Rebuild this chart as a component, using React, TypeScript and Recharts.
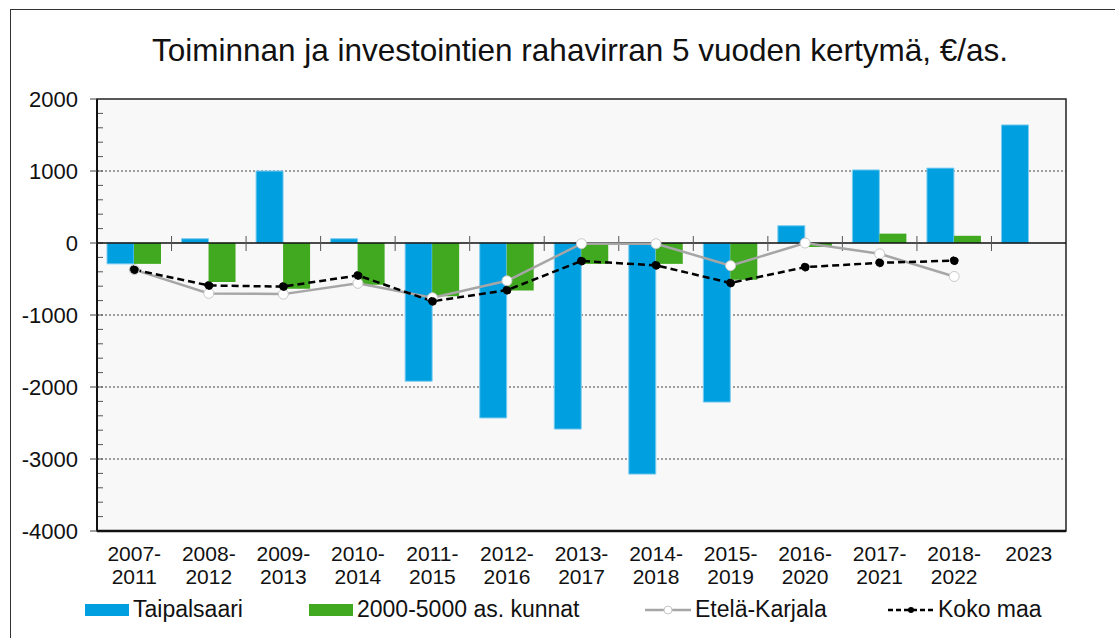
import { Bar, CartesianGrid, ComposedChart, Line, ReferenceArea, ReferenceLine, XAxis, YAxis } from 'recharts';

const categories = ['2007-2011', '2008-2012', '2009-2013', '2010-2014', '2011-2015', '2012-2016', '2013-2017', '2014-2018', '2015-2019', '2016-2020', '2017-2021', '2018-2022', '2023'];
const taipalsaari = [-290, 60, 1000, 60, -1920, -2430, -2585, -3210, -2210, 240, 1015, 1040, 1640];
const kunnat = [-290, -540, -635, -580, -740, -660, -290, -290, -510, -55, 130, 100, null];
const etelaKarjala = [-370, -700, -710, -560, -760, -525, -10, -10, -315, 0, -150, -465, null];
const kokoMaa = [-370, -590, -605, -450, -810, -655, -250, -310, -555, -335, -275, -245, null];

const yMin = -4000;
const yMax = 2000;
const yTicks = [-4000, -3000, -2000, -1000, 0, 1000, 2000];
const minorStep = 200;
const gridValues = [-3000, -2000, -1000, 1000];

const data = categories.map((cat, i) => ({
  cat,
  taipalsaari: taipalsaari[i],
  kunnat: kunnat[i],
  etela: etelaKarjala[i],
  koko: kokoMaa[i],
}));

const FONT = '"Liberation Sans", Arial, sans-serif';

function CatTick({ x, y, payload }: any) {
  const v = String(payload.value);
  const parts = v.includes('-') ? [v.split('-')[0] + '-', v.split('-')[1]] : [v];
  return (
    <text x={x} y={y} textAnchor="middle" fontFamily={FONT} fontSize={21} fill="#111">
      {parts.map((p, i) => (
        <tspan key={i} x={x} dy={i === 0 ? 22 : 23}>{p}</tspan>
      ))}
    </text>
  );
}

// zero axis line with category separators crossing it
function ZeroLine(props: any) {
  const { x1, x2, y1 } = props;
  const step = (x2 - x1) / categories.length;
  return (
    <g>
      <line x1={x1} x2={x2} y1={y1} y2={y1} stroke="#111" strokeWidth={1.5} />
      {categories.slice(1).map((_, i) => (
        <line key={i} x1={x1 + step * (i + 1)} x2={x1 + step * (i + 1)} y1={y1 - 7} y2={y1 + 8} stroke="#555" strokeWidth={1} />
      ))}
    </g>
  );
}

// plot frame (top/right border) plus minor ticks on the value axis
function PlotFrame(props: any) {
  const { x, y, width, height } = props;
  const n = (yMax - yMin) / minorStep;
  const minors = Array.from({ length: n - 1 }, (_, i) => y + (height * (i + 1)) / n);
  return (
    <g>
      <rect x={x} y={y} width={width} height={height} fill="none" stroke="#222" strokeWidth={1.5} />
      {minors.map((my, i) => (
        <line key={i} x1={x} x2={x + 6} y1={my} y2={my} stroke="#555" strokeWidth={1} />
      ))}
    </g>
  );
}

function LegendItem({ kind, label, left }: { kind: string; label: string; left: number }) {
  let icon;
  if (kind === 'blue') icon = <rect x={0} y={1} width={44} height={12} fill="#009FDF" />;
  else if (kind === 'green') icon = <rect x={0} y={1} width={44} height={12} fill="#41A91F" />;
  else if (kind === 'gray') icon = (
    <g>
      <line x1={0} x2={46} y1={7} y2={7} stroke="#a6a6a6" strokeWidth={2.5} />
      <circle cx={23} cy={7} r={4} fill="#fff" stroke="#c8c8c8" />
    </g>
  );
  else icon = (
    <g>
      <line x1={0} x2={46} y1={7} y2={7} stroke="#000" strokeWidth={2.5} strokeDasharray="5 3" />
      <circle cx={23} cy={7} r={3} fill="#000" />
    </g>
  );
  return (
    <div style={{ position: 'absolute', left, top: 596, display: 'flex', alignItems: 'center', fontFamily: FONT, fontSize: 23, color: '#111' }}>
      <svg width={kind === 'blue' || kind === 'green' ? 44 : 46} height={14} style={{ marginRight: 4 }}>{icon}</svg>
      <span>{label}</span>
    </div>
  );
}

export default function App() {
  return (
    <div style={{ position: 'relative', width: 1115, height: 638, background: '#fff', overflow: 'hidden' }}>
      <style>{'body{margin:0;overflow:hidden}'}</style>
      <div style={{ position: 'absolute', left: 10, top: 9, width: 1120, height: 660, borderLeft: '1.5px solid #333', borderTop: '1.5px solid #333' }} />
      <div style={{ position: 'absolute', left: 0, top: 32, width: 1160, textAlign: 'center', fontFamily: FONT, fontSize: 31.5, color: '#111', whiteSpace: 'nowrap' }}>
        Toiminnan ja investointien rahavirran 5 vuoden kertymä, €/as.
      </div>
      <div style={{ position: 'absolute', left: 0, top: 0 }}>
        <ComposedChart width={1115} height={638} data={data} barGap={0} margin={{ top: 99, right: 49, bottom: 47, left: 0 }}>
          <CartesianGrid horizontal vertical={false} horizontalValues={gridValues} stroke="#444" strokeDasharray="2 2" fill="#f8f8f8" />
          <XAxis dataKey="cat" height={60} interval={0} tickLine={false} axisLine={{ stroke: '#111', strokeWidth: 2.5 }} tick={<CatTick />} />
          <YAxis domain={[yMin, yMax]} ticks={yTicks} width={97} tickSize={7} tickMargin={12} interval={0} axisLine={{ stroke: '#111', strokeWidth: 2 }} tickLine={{ stroke: '#444' }} tick={{ fontFamily: FONT, fontSize: 22, fill: '#111' }} />
          <ReferenceArea y1={yMin} y2={yMax} shape={<PlotFrame />} />
          <ReferenceLine y={0} shape={<ZeroLine />} />
          <Bar dataKey="taipalsaari" name="Taipalsaari" fill="#009FDF" stroke="#7fcdf0" strokeWidth={1} barSize={27} isAnimationActive={false} />
          <Bar dataKey="kunnat" name="2000-5000 as. kunnat" fill="#41A91F" barSize={27} isAnimationActive={false} />
          <Line dataKey="etela" name="Etelä-Karjala" stroke="#a6a6a6" strokeWidth={2.5} dot={{ r: 5, fill: '#fff', stroke: '#c8c8c8', strokeWidth: 1 }} isAnimationActive={false} />
          <Line dataKey="koko" name="Koko maa" stroke="#000" strokeWidth={2.5} strokeDasharray="7 4" dot={{ r: 4, fill: '#000', stroke: '#000', strokeWidth: 1 }} isAnimationActive={false} />
        </ComposedChart>
      </div>
      <LegendItem kind="blue" label="Taipalsaari" left={85} />
      <LegendItem kind="green" label="2000-5000 as. kunnat" left={309} />
      <LegendItem kind="gray" label="Etelä-Karjala" left={645} />
      <LegendItem kind="black" label="Koko maa" left={888} />
    </div>
  );
}
